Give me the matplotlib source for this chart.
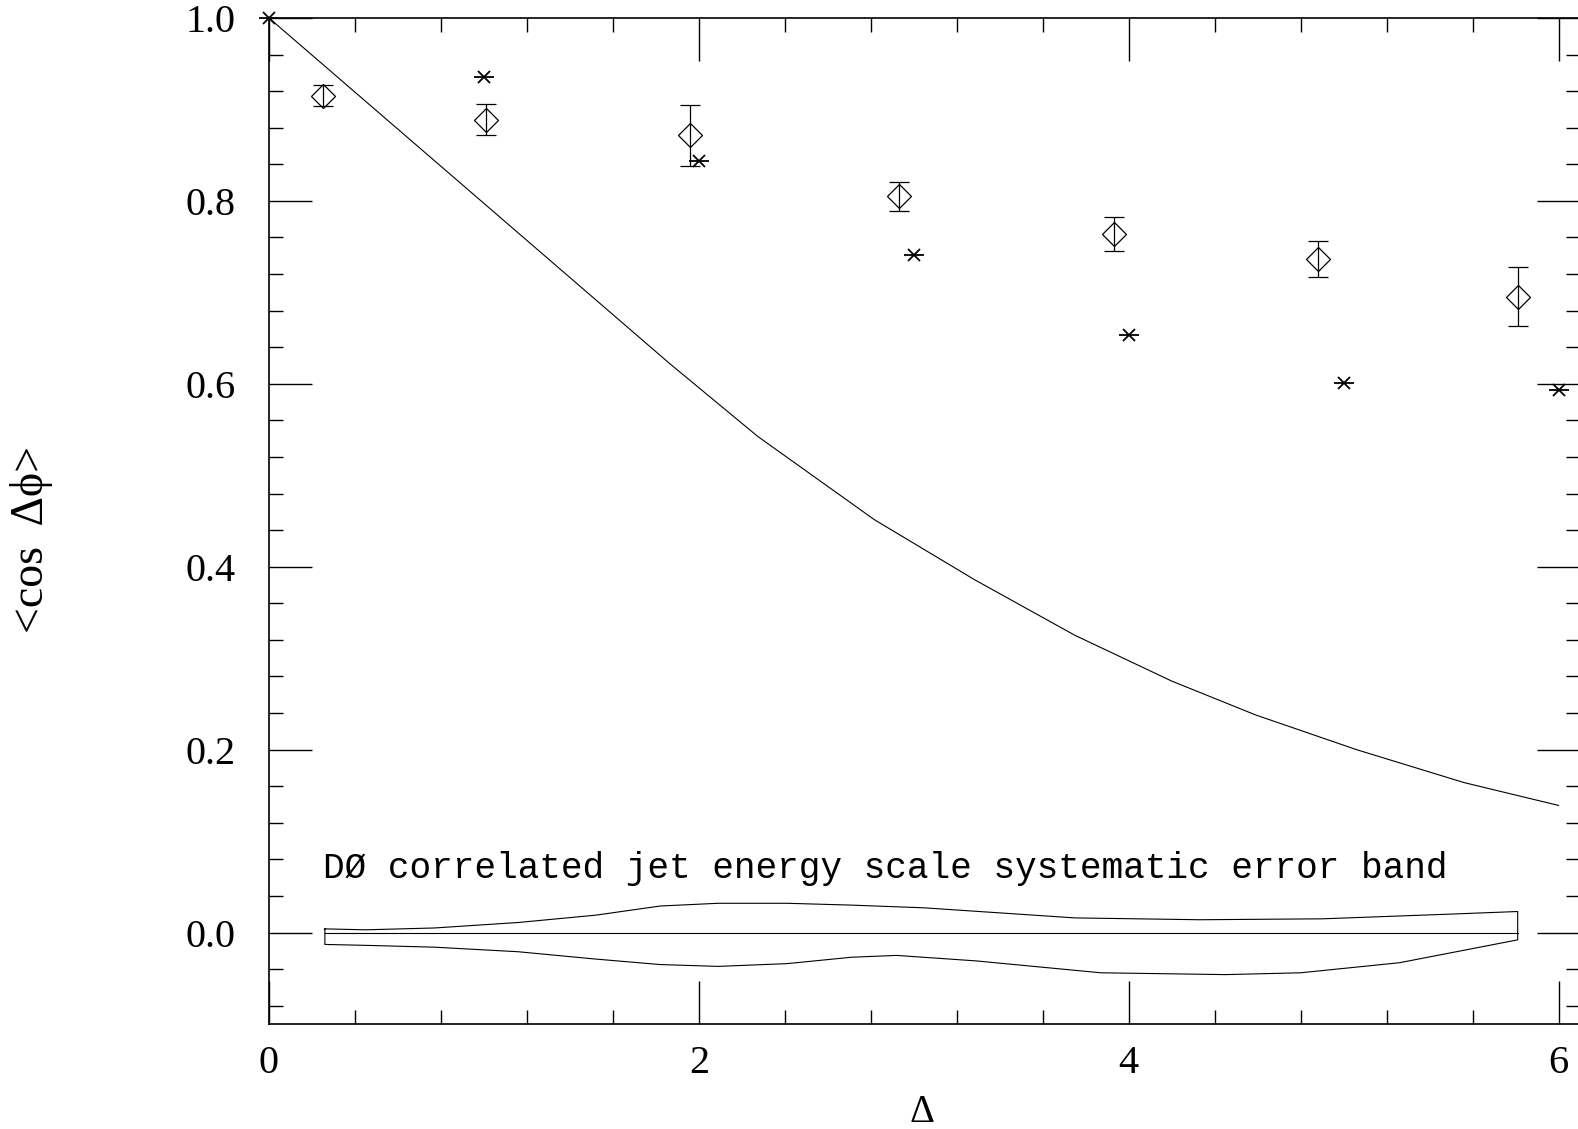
import numpy as np
import matplotlib
matplotlib.use("Agg")
import matplotlib.pyplot as plt
from matplotlib.ticker import MultipleLocator, FixedLocator, FormatStrFormatter

# data
dia_x = [0.25, 1.01, 1.96, 2.93, 3.93, 4.88, 5.81]
dia_y = [0.915, 0.889, 0.872, 0.805, 0.764, 0.737, 0.695]
dia_top = [0.927, 0.906, 0.905, 0.821, 0.782, 0.756, 0.728]
dia_bot = [0.904, 0.872, 0.838, 0.789, 0.745, 0.717, 0.663]

star_x = [0, 1, 2, 3, 4, 5, 6]
star_y = [1.0, 0.936, 0.844, 0.741, 0.653, 0.601, 0.593]

curve_x = [0, 1.865, 2.274, 2.817, 3.283, 3.75, 4.2, 4.59, 5.06, 5.56, 6.0]
curve_y = [1.0, 0.622, 0.5425, 0.4514, 0.3858, 0.325, 0.275, 0.238, 0.200, 0.164, 0.139]

# systematic error band (upper / lower edge)
band_up_x = [0.26, 0.45, 0.77, 1.16, 1.52, 1.82, 2.09, 2.41, 2.71, 3.05, 3.75, 4.33, 4.90, 5.48, 5.81]
band_up_y = [0.004, 0.003, 0.005, 0.011, 0.019, 0.029, 0.032, 0.032, 0.030, 0.027, 0.016, 0.014, 0.015, 0.020, 0.023]
band_lo_x = [0.26, 0.45, 0.77, 1.16, 1.52, 1.82, 2.09, 2.41, 2.71, 2.92, 3.29, 3.87, 4.45, 4.80, 5.26, 5.81]
band_lo_y = [-0.013, -0.014, -0.016, -0.021, -0.029, -0.035, -0.037, -0.034, -0.027, -0.025, -0.031, -0.044, -0.046, -0.044, -0.033, -0.008]

xticks = [0, 2, 4, 6]
yticks = [0.0, 0.2, 0.4, 0.6, 0.8, 1.0]

serif = ['Liberation Serif', 'DejaVu Serif']

fig = plt.figure(figsize=(15.78, 11.29), dpi=100)
ax = fig.add_axes([269 / 1578, 105 / 1129, 1311 / 1578, 1006 / 1129])

# curve
ax.plot(curve_x, curve_y, color='k', lw=0.8)

# diamonds with error bars
yerr = [np.array(dia_y) - np.array(dia_bot), np.array(dia_top) - np.array(dia_y)]
ax.errorbar(dia_x, dia_y, yerr=yerr, fmt='D', mfc='none', mec='k', ecolor='k',
            ms=12, mew=0.9, elinewidth=0.9, capsize=7.5, capthick=0.9)

# stars: x with horizontal bar
ax.plot(star_x, star_y, ls='none', marker='x', color='k', ms=9, mew=1.3, clip_on=False)
ax.plot(star_x, star_y, ls='none', marker='_', color='k', ms=14, mew=1.3, clip_on=False)

# band outline
outline_x = band_up_x + band_lo_x[::-1] + [band_up_x[0]]
outline_y = band_up_y + band_lo_y[::-1] + [band_up_y[0]]
ax.plot(outline_x, outline_y, color='k', lw=0.8)
ax.plot([band_up_x[0], band_up_x[-1]], [0, 0], color='k', lw=0.8)

ax.text(0.25, 0.06, 'DØ correlated jet energy scale systematic error band',
        family='Liberation Mono', fontsize=26, ha='left', va='baseline')

ax.set_xlim(0, 6.1)
ax.set_ylim(-0.1, 1.0)
ax.xaxis.set_major_locator(FixedLocator(xticks))
ax.xaxis.set_minor_locator(MultipleLocator(0.4))
ax.yaxis.set_major_locator(FixedLocator(yticks))
ax.yaxis.set_minor_locator(MultipleLocator(0.04))
ax.yaxis.set_major_formatter(FormatStrFormatter('%.1f'))
ax.xaxis.set_major_formatter(FormatStrFormatter('%d'))

ax.tick_params(which='both', direction='in', top=True, right=True, width=1.0)
ax.tick_params(which='major', length=31)
ax.tick_params(which='minor', length=10)
ax.tick_params(axis='y', which='major', pad=24)
ax.tick_params(axis='x', which='major', pad=15)
for lab in ax.get_xticklabels() + ax.get_yticklabels():
    lab.set_family(serif)
    lab.set_fontsize(29)
for sp in ax.spines.values():
    sp.set_linewidth(1.2)

fig.text(32 / 1578, 1 - 539 / 1129, '<cos  Δϕ>', rotation=90, ha='center', va='center',
         family=serif, fontsize=33)
fig.text(922 / 1578, 1 - 1113 / 1129, 'Δ', ha='center', va='center',
         family=serif, fontsize=28)

fig.savefig('out.png', dpi=100)
